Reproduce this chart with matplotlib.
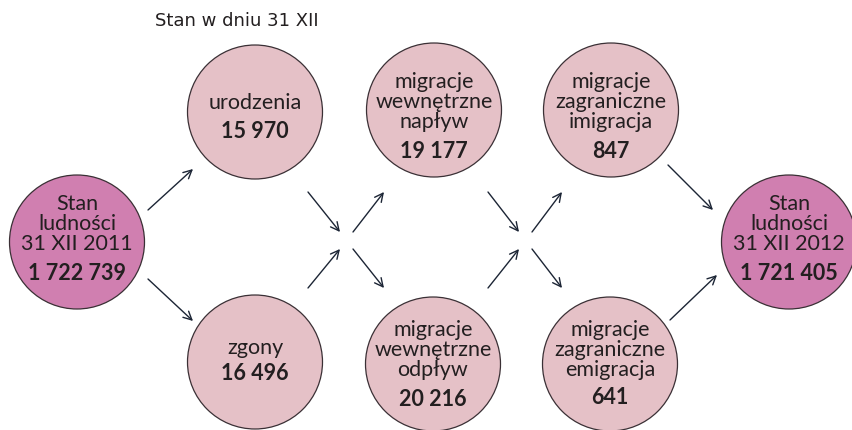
import matplotlib.pyplot as plt
from matplotlib.patches import Ellipse

# Data
labels = [
    "Stan\nludności\n31 XII 2011",
    "urodzenia",
    "zgony",
    "migracje\nwewnętrzne\nnapływ",
    "migracje\nwewnętrzne\nodpływ",
    "migracje\nzagraniczne\nimigracja",
    "migracje\nzagraniczne\nemigracja",
    "Stan\nludności\n31 XII 2012",
]
values = [1722739, 15970, 16496, 19177, 20216, 847, 641, 1721405]
title = "Stan w dniu 31 XII"

# Layout (pixels, origin top-left)
centers = [(77, 242), (255, 112), (255, 362), (434, 110),
           (433, 364), (611, 110), (610, 364), (789, 242)]
big = [True, False, False, False, False, False, False, True]
# vertical centre of label block and of number
text_y = [(224, 274), (103, 131), (348, 373), (102, 151),
          (350, 399), (102, 152), (350, 398), (224, 274)]

arrows = [
    ((148, 210), (193, 169)),
    ((148, 279), (193, 321)),
    ((308, 192), (340, 232)),
    ((353, 232), (384, 192)),
    ((308, 288), (340, 249)),
    ((353, 249), (384, 288)),
    ((488, 192), (519, 232)),
    ((532, 232), (562, 192)),
    ((488, 288), (519, 249)),
    ((532, 249), (562, 288)),
    ((668, 165), (713, 210)),
    ((670, 320), (717, 275)),
]


def fmt(v):
    return f"{v:,}".replace(",", " ")


fig = plt.figure(figsize=(8.52, 4.30), dpi=100)
ax = fig.add_axes([0, 0, 1, 1])
ax.set_xlim(0, 852)
ax.set_ylim(430, 0)
ax.axis("off")

font = ["Lato", "DejaVu Sans"]

for (cx, cy), lab, val, b, (ly, vy) in zip(centers, labels, values, big, text_y):
    fc = "#d07fb0" if b else "#e5c1c7"
    ax.add_patch(Ellipse((cx, cy), 135, 134, facecolor=fc,
                         edgecolor="#3a3035", linewidth=0.9))
    ax.text(cx, ly, lab, ha="center", va="center", fontsize=15.5,
            family=font, color="#231f20", linespacing=1.0)
    ax.text(cx, vy, fmt(val), ha="center", va="center", fontsize=15.5,
            family=font, fontweight="bold", color="#231f20")

for start, end in arrows:
    ax.annotate("", xy=end, xytext=start,
                arrowprops=dict(arrowstyle="->,head_length=0.6,head_width=0.3",
                                color="#1c2535", lw=1.0, shrinkA=0, shrinkB=0))

ax.text(155, 21, title, ha="left", va="center", fontsize=13,
        family="DejaVu Sans", color="#231f20")

fig.savefig("out.png", dpi=100)
